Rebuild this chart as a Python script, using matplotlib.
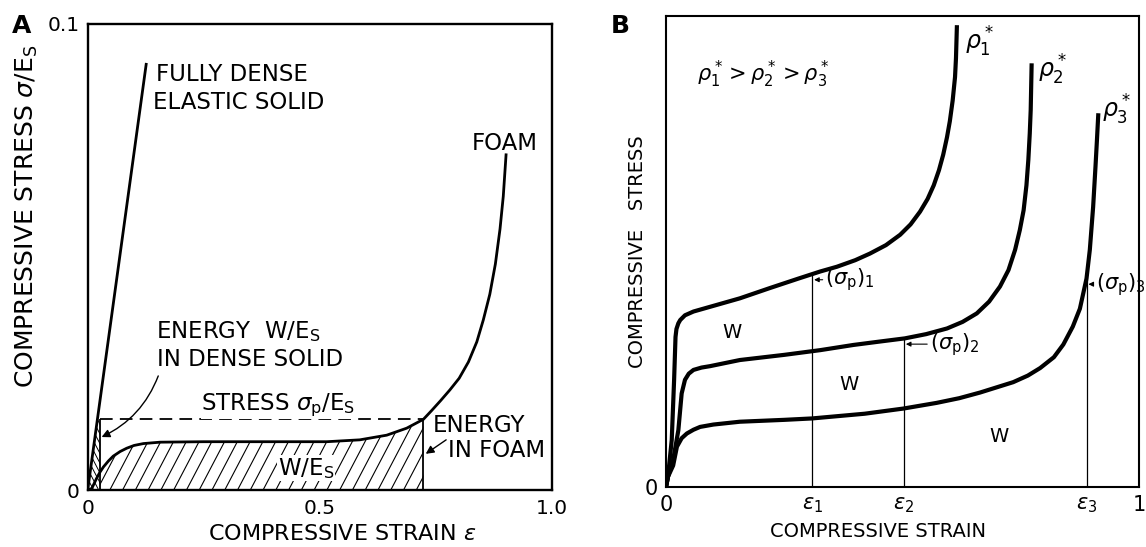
import matplotlib
matplotlib.use("Agg")
import matplotlib.pyplot as plt
from matplotlib.patches import Polygon
import numpy as np

plt.rcParams['font.family'] = ['DejaVu Sans']
plt.rcParams['mathtext.fontset'] = 'dejavusans'

# ---- panel A data (strain, stress/Es) ----
dense_x = [0.0, 0.126]
dense_y = [0.0, 0.0913]
foam_x = [0.0, 0.009, 0.019, 0.026, 0.034, 0.045, 0.055, 0.07, 0.084, 0.10, 0.12, 0.156,
          0.25, 0.35, 0.45, 0.515, 0.586, 0.644, 0.687, 0.723, 0.74, 0.76, 0.78, 0.80,
          0.82, 0.838, 0.852, 0.866, 0.878, 0.888, 0.895, 0.901]
foam_y = [0.0, 0.0004, 0.0025, 0.0038, 0.0050, 0.0063, 0.0073, 0.0083, 0.0090, 0.0096,
          0.0100, 0.0103, 0.0104, 0.0104, 0.0104, 0.0104, 0.0108, 0.0118, 0.0133, 0.0152,
          0.0170, 0.0192, 0.0215, 0.0240, 0.0275, 0.0318, 0.0365, 0.0420, 0.0485, 0.0560,
          0.0630, 0.0719]
sigma_p = 0.0152
eps_dense = 0.027
eps_foam = 0.723

# ---- panel B data (three foam densities) ----
c1_x = [0.0, 0.004, 0.012, 0.017, 0.020, 0.022, 0.026, 0.030, 0.040, 0.058, 0.093, 0.156,
        0.22, 0.28, 0.326, 0.361, 0.40, 0.431, 0.465, 0.495, 0.517, 0.537, 0.553, 0.566,
        0.577, 0.586, 0.594, 0.600, 0.606, 0.611, 0.613, 0.615]
c1_y = [0.0, 0.021, 0.099, 0.226, 0.318, 0.335, 0.347, 0.354, 0.364, 0.372, 0.382, 0.40,
        0.422, 0.442, 0.457, 0.467, 0.481, 0.495, 0.513, 0.535, 0.557, 0.584, 0.611, 0.64,
        0.672, 0.705, 0.742, 0.776, 0.82, 0.87, 0.91, 0.98]
c2_x = [0.0, 0.004, 0.015, 0.026, 0.033, 0.040, 0.048, 0.058, 0.075, 0.093, 0.156, 0.25,
        0.326, 0.396, 0.45, 0.505, 0.55, 0.594, 0.627, 0.657, 0.683, 0.706, 0.724, 0.738,
        0.748, 0.756, 0.762, 0.766, 0.769, 0.771, 0.773]
c2_y = [0.0, 0.021, 0.057, 0.12, 0.198, 0.227, 0.240, 0.248, 0.253, 0.256, 0.269, 0.28,
        0.290, 0.301, 0.308, 0.315, 0.324, 0.336, 0.35, 0.368, 0.393, 0.425, 0.46, 0.503,
        0.545, 0.587, 0.64, 0.694, 0.75, 0.80, 0.899]
c3_x = [0.0, 0.004, 0.015, 0.023, 0.033, 0.044, 0.058, 0.072, 0.10, 0.156, 0.25, 0.309,
        0.42, 0.502, 0.572, 0.62, 0.664, 0.734, 0.765, 0.791, 0.82, 0.840, 0.860, 0.875,
        0.889, 0.896, 0.903, 0.908, 0.911, 0.914]
c3_y = [0.0, 0.021, 0.045, 0.085, 0.103, 0.113, 0.121, 0.127, 0.132, 0.138, 0.142, 0.145,
        0.155, 0.166, 0.178, 0.188, 0.200, 0.222, 0.236, 0.252, 0.275, 0.302, 0.34, 0.378,
        0.442, 0.503, 0.594, 0.68, 0.735, 0.793]
eps_pts = [0.309, 0.503, 0.889]
eps_labels = [r'$\epsilon_1$', r'$\epsilon_2$', r'$\epsilon_3$']
rho_labels = [r'$\rho^*_1$', r'$\rho^*_2$', r'$\rho^*_3$']
sp_labels = [r'$(\sigma_\mathrm{p})_1$', r'$(\sigma_\mathrm{p})_2$', r'$(\sigma_\mathrm{p})_3$']

fig = plt.figure(figsize=(11.46, 5.47), dpi=100)

# ================= panel A =================
axA = fig.add_axes([0.0765, 0.1038, 0.4052, 0.8528])
axA.set_xlim(0, 1.0)
axA.set_ylim(0, 0.1)

fx = np.array(foam_x)
fy = np.array(foam_y)
m = (fx > eps_dense) & (fx <= eps_foam)
poly_x = np.concatenate([[eps_dense, eps_dense], fx[m], [eps_foam]])
poly_y = np.concatenate([[0, np.interp(eps_dense, fx, fy)], fy[m], [0]])
foam_patch = Polygon(np.column_stack([poly_x, poly_y]), closed=True, fc='none', ec='none')
axA.add_patch(foam_patch)
x_top = sigma_p * dense_x[1] / dense_y[1]
tri_patch = Polygon([(0, 0), (x_top, sigma_p), (eps_dense, sigma_p), (eps_dense, 0)],
                    closed=True, fc='none', ec='none')
axA.add_patch(tri_patch)

# hatching, drawn as thin clipped lines
slope = 0.19
for x0 in np.arange(-0.2, 0.75, 0.0275):
    ln, = axA.plot([x0, x0 + 0.03 / slope], [0, 0.03], color='k', lw=0.8)
    ln.set_clip_path(foam_patch)
for x0 in np.arange(-0.02, 0.12, 0.011):
    ln, = axA.plot([x0, x0 - 0.03 / slope], [0, 0.03], color='k', lw=0.7)
    ln.set_clip_path(tri_patch)

axA.plot(dense_x, dense_y, color='k', lw=2.0)
axA.plot(foam_x, foam_y, color='k', lw=2.0, solid_joinstyle='round')
axA.plot([eps_dense, eps_foam], [sigma_p, sigma_p], color='k', lw=1.3, ls=(0, (7, 4)))
axA.vlines([eps_dense, eps_foam], 0, sigma_p, color='k', lw=1.3)

fs = 16.5
axA.text(0.148, 0.0915, 'FULLY DENSE', fontsize=fs, va='top')
axA.text(0.140, 0.0855, 'ELASTIC SOLID', fontsize=fs, va='top')
axA.text(0.828, 0.0744, 'FOAM', fontsize=fs, va='center')
axA.text(0.147, 0.0366, 'ENERGY  W/E$_\\mathrm{S}$', fontsize=fs, va='top')
axA.text(0.150, 0.0305, 'IN DENSE SOLID', fontsize=fs, va='top')
axA.text(0.245, 0.0183, 'STRESS $\\sigma_\\mathrm{p}$/E$_\\mathrm{S}$', fontsize=fs,
         va='center', bbox=dict(facecolor='white', edgecolor='none', pad=0.3))
axA.text(0.744, 0.0163, 'ENERGY', fontsize=fs, va='top')
axA.text(0.775, 0.0072, 'IN FOAM', fontsize=fs, va='baseline')
axA.text(0.47, 0.0047, 'W/E$_\\mathrm{S}$', fontsize=fs, va='center', ha='center',
         bbox=dict(facecolor='white', edgecolor='none', pad=0.3))
axA.annotate('', xy=(0.030, 0.0114), xytext=(0.152, 0.0245),
             arrowprops=dict(arrowstyle='-|>', color='k', lw=1.0,
                             connectionstyle='arc3,rad=-0.2', mutation_scale=12,
                             shrinkA=0, shrinkB=0))
axA.annotate('', xy=(0.728, 0.0078), xytext=(0.772, 0.0108),
             arrowprops=dict(arrowstyle='-|>', color='k', lw=1.0, mutation_scale=12,
                             shrinkA=0, shrinkB=0))

axA.set_xticks([0, 0.5, 1.0])
axA.set_xticklabels(['0', '0.5', '1.0'])
axA.set_yticks([0, 0.1])
axA.set_yticklabels(['0', '0.1'])
axA.tick_params(length=0, labelsize=14.5, pad=6)
axA.set_xlabel('COMPRESSIVE STRAIN $\\epsilon$', fontsize=16, va='center')
axA.xaxis.set_label_coords(0.547, -0.093)
axA.set_ylabel('COMPRESSIVE STRESS $\\sigma$/E$_\\mathrm{S}$', fontsize=18, va='center')
axA.yaxis.set_label_coords(-0.13, 0.588)
for s in axA.spines.values():
    s.set_linewidth(1.7)
fig.text(0.0105, 0.94, 'A', fontsize=18, fontweight='bold', va='baseline')

# ================= panel B =================
axB = fig.add_axes([0.5812, 0.1102, 0.4127, 0.861])
axB.set_xlim(0, 1)
axB.set_ylim(0, 1)
curves = [(c1_x, c1_y), (c2_x, c2_y), (c3_x, c3_y)]
for cx, cy in curves:
    axB.plot(cx, cy, color='k', lw=3.0, solid_capstyle='butt', solid_joinstyle='round')

sp_vals = [np.interp(e, cx, cy) for e, (cx, cy) in zip(eps_pts, curves)]
axB.vlines(eps_pts, 0, sp_vals, color='k', lw=0.9)

arrow_len = [0.028, 0.055, 0.02]
for e, s, t, d in zip(eps_pts, sp_vals, sp_labels, arrow_len):
    axB.annotate(t, xy=(e + 0.004, s - 0.012), xytext=(e + d, s - 0.012), fontsize=15,
                 va='center', ha='left',
                 arrowprops=dict(arrowstyle='-|>', color='k', lw=0.8, mutation_scale=7,
                                 shrinkA=0, shrinkB=0))

w_pos = [(0.139, 0.327), (0.387, 0.218), (0.703, 0.107)]
for (wx, wy) in w_pos:
    axB.text(wx, wy, 'W', fontsize=14, ha='center', va='center')

rho_pos = [(0.632, 0.945), (0.787, 0.885), (0.922, 0.80)]
for (rx, ry), lab in zip(rho_pos, rho_labels):
    axB.text(rx, ry, lab, fontsize=17, va='center')
axB.text(0.065, 0.875, r'$\rho^*_1 > \rho^*_2 > \rho^*_3$', fontsize=15, va='center')

axB.set_xticks([0] + eps_pts + [1])
axB.set_xticklabels(['0'] + eps_labels + ['1'])
axB.set_yticks([0])
axB.set_yticklabels(['0'])
axB.tick_params(length=0, labelsize=15, pad=6)
axB.set_xlabel('COMPRESSIVE STRAIN', fontsize=14, va='center')
axB.xaxis.set_label_coords(0.448, -0.096)
axB.set_ylabel('COMPRESSIVE   STRESS', fontsize=14, va='center')
axB.yaxis.set_label_coords(-0.061, 0.5)
for s in axB.spines.values():
    s.set_linewidth(1.5)
fig.text(0.533, 0.94, 'B', fontsize=18, fontweight='bold', va='baseline')

fig.savefig('out.png', dpi=100)
